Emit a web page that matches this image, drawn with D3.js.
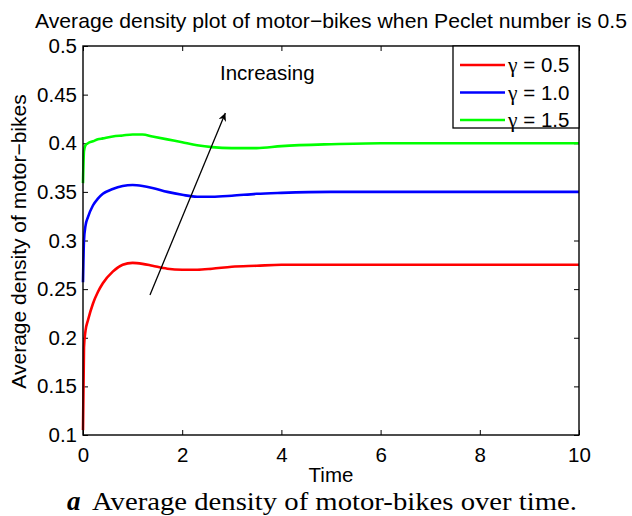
<!DOCTYPE html>
<html><head><meta charset="utf-8">
<script src="https://cdn.jsdelivr.net/npm/d3@7"></script>
<style>body{margin:0;background:#fff}svg{display:block;font-family:"Liberation Sans",Arial,sans-serif}</style>
</head><body><svg id="c" width="632" height="516"></svg>
<script>
const time = [0, 0.02, 0.05, 0.1, 0.2, 0.3, 0.4, 0.6, 0.8, 1.0, 1.2, 1.4, 1.7, 2.0, 2.3, 2.6, 3.0, 3.5, 4, 5, 6, 7, 8, 9, 10];
const red   = [0.105,0.190,0.207,0.218,0.235,0.247,0.256,0.268,0.275,0.277,0.276,0.274,0.271,0.270,0.270,0.271,0.273,0.274,0.275,0.275,0.275,0.275,0.275,0.275,0.275];
const blue  = [0.257,0.300,0.315,0.324,0.336,0.343,0.348,0.353,0.356,0.357,0.356,0.354,0.350,0.347,0.345,0.345,0.346,0.348,0.349,0.350,0.350,0.350,0.350,0.350,0.350];
const green = [0.359,0.392,0.398,0.400,0.402,0.404,0.405,0.407,0.408,0.409,0.409,0.407,0.404,0.401,0.398,0.396,0.395,0.395,0.397,0.399,0.400,0.400,0.400,0.400,0.400];
const seriesNames = ["0.5", "1.0", "1.5"];
const seriesColors = ["#ff0000", "#0000ff", "#00ff00"];
const xTicks = [0, 2, 4, 6, 8, 10];
const yTicks = [0.1, 0.15, 0.2, 0.25, 0.3, 0.35, 0.4, 0.45, 0.5];
const titleText = "Average density plot of motor\u2212bikes when Peclet number is 0.5";
const yLabel = "Average density of motor\u2212bikes";
const xLabel = "Time";
const annotation = "Increasing";
const arrowFrom = [1.35, 0.244];
const arrowTo = [2.87, 0.431];
const captionLetter = "a";
const captionText = "Average density of motor-bikes over time.";

const svg = d3.select("#c");
const L = 83, R = 579, T = 46, B = 435;
const FS = 20.5;
const x = d3.scaleLinear().domain([0, 10]).range([L, R]);
const y = d3.scaleLinear().domain([0.1, 0.5]).range([B, T]);

const fmt = d => String(d);
svg.append("g").attr("transform", `translate(0,${B})`)
  .call(d3.axisBottom(x).tickValues(xTicks).tickSizeInner(-5).tickSizeOuter(0).tickPadding(12).tickFormat(fmt))
  .call(g => { g.select(".domain").remove(); g.selectAll("text").style("font-size", FS + "px").style("font-family", "Liberation Sans, Arial").attr("fill", "#000"); });
svg.append("g").attr("transform", `translate(0,${T})`)
  .call(d3.axisTop(x).tickValues(xTicks).tickSizeInner(-5).tickSizeOuter(0).tickFormat(""))
  .call(g => g.select(".domain").remove());
svg.append("g").attr("transform", `translate(${L},0)`)
  .call(d3.axisLeft(y).tickValues(yTicks).tickSizeInner(-5).tickSizeOuter(0).tickPadding(6).tickFormat(fmt))
  .call(g => { g.select(".domain").remove(); g.selectAll("text").style("font-size", FS + "px").style("font-family", "Liberation Sans, Arial").attr("fill", "#000"); });
svg.append("g").attr("transform", `translate(${R},0)`)
  .call(d3.axisRight(y).tickValues(yTicks).tickSizeInner(-5).tickSizeOuter(0).tickFormat(""))
  .call(g => g.select(".domain").remove());

const line = d3.line().x(d => x(d[0])).y(d => y(d[1])).curve(d3.curveMonotoneX);
[red, blue, green].forEach((vals, i) => {
  svg.append("path").datum(time.map((t, j) => [t, vals[j]]))
    .attr("d", line).attr("fill", "none").attr("stroke", seriesColors[i]).attr("stroke-width", 2.6);
});

svg.append("rect").attr("x", L).attr("y", T).attr("width", R - L).attr("height", B - T)
  .attr("fill", "none").attr("stroke", "#000").attr("stroke-width", 1.4);

// arrow
svg.append("defs").append("marker").attr("id", "ah").attr("viewBox", "0 0 10 10")
  .attr("refX", 10).attr("refY", 5).attr("markerWidth", 11).attr("markerHeight", 8).attr("markerUnits", "userSpaceOnUse").attr("orient", "auto")
  .append("path").attr("d", "M0,0 L10,5 L0,10 L3,5 Z").attr("fill", "#000");
svg.append("line").attr("x1", x(arrowFrom[0])).attr("y1", y(arrowFrom[1])).attr("x2", x(arrowTo[0])).attr("y2", y(arrowTo[1]))
  .attr("stroke", "#000").attr("stroke-width", 1.3).attr("marker-end", "url(#ah)");
svg.append("text").attr("x", 220).attr("y", 80).style("font-size", FS + "px").text(annotation);

// legend
const lg = svg.append("g");
lg.append("rect").attr("x", 453).attr("y", T).attr("width", R - 453).attr("height", 82).attr("fill", "#fff").attr("stroke", "#000").attr("stroke-width", 1.3);
seriesNames.forEach((n, i) => {
  const yy = 65 + i * 27.5;
  lg.append("line").attr("x1", 460).attr("x2", 505).attr("y1", yy).attr("y2", yy).attr("stroke", seriesColors[i]).attr("stroke-width", 2.6);
  const t = lg.append("text").attr("x", 508).attr("y", yy + 7).style("font-size", FS + "px");
  t.append("tspan").style("font-family", "Liberation Serif, serif").style("font-size", (FS + 1) + "px").text("γ");
  t.append("tspan").text(" = " + n);
});

// titles
svg.append("text").attr("x", 331).attr("y", 28).attr("text-anchor", "middle").style("font-size", "21px")
  .attr("textLength", 592).attr("lengthAdjust", "spacingAndGlyphs").text(titleText);
svg.append("text").attr("transform", `translate(26,${(T + B) / 2 + 1}) rotate(-90)`).attr("text-anchor", "middle").style("font-size", "21px").text(yLabel);
svg.append("text").attr("x", 331).attr("y", 482).attr("text-anchor", "middle").style("font-size", FS + "px").text(xLabel);

// caption
svg.append("text").attr("x", 67).attr("y", 510).style("font-family", "Liberation Serif, serif").style("font-size", "27px").style("font-weight", "bold").style("font-style", "italic").text(captionLetter);
svg.append("text").attr("x", 92).attr("y", 510).style("font-family", "Liberation Serif, DejaVu Serif, serif").style("font-size", "26px")
  .attr("textLength", 485).attr("lengthAdjust", "spacingAndGlyphs").text(captionText);
</script></body></html>
